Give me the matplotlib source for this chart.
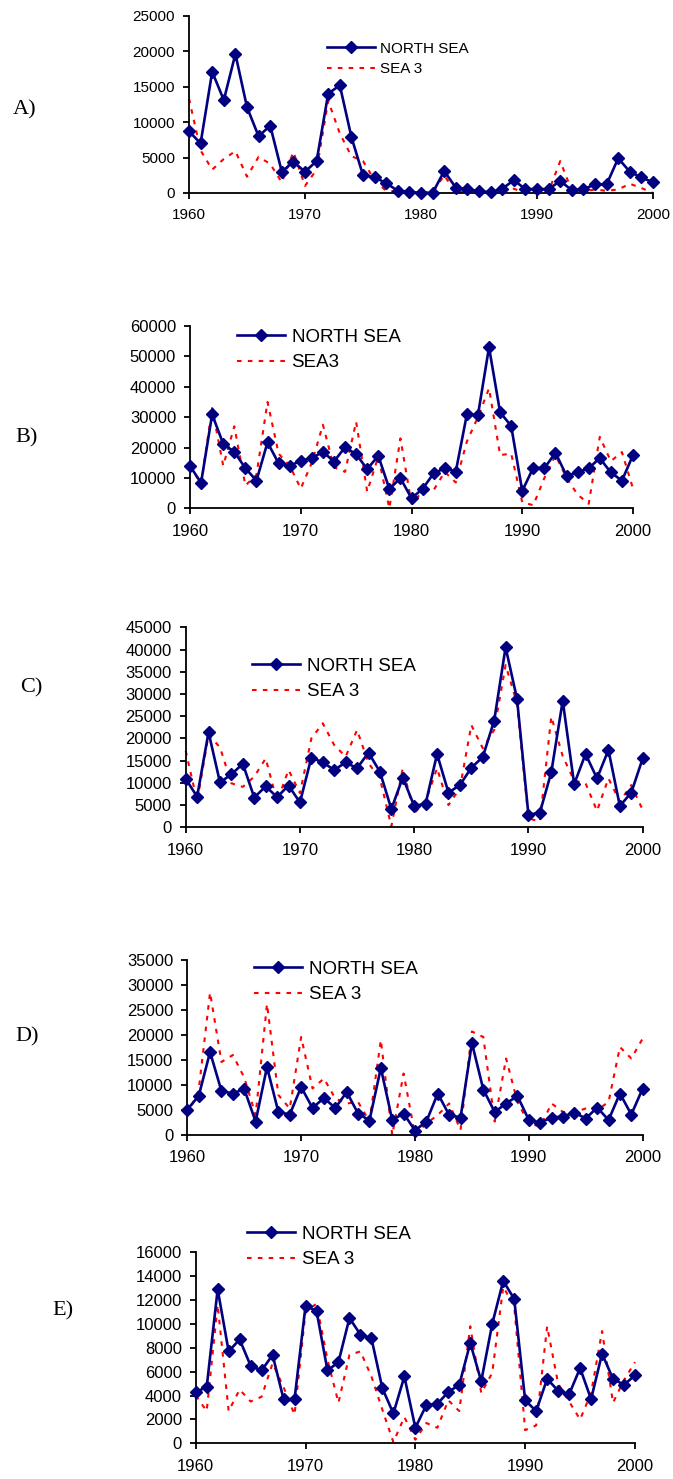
import numpy as np
import matplotlib.pyplot as plt

W, H = 673, 1479
plt.rcParams['font.family'] = ['Liberation Sans', 'DejaVu Sans']

years = np.arange(1960, 2001)

# A)
a_north = [8700, 7000, 17100, 13100, 19600, 12100, 8000, 9500, 3000, 4400,
           3000, 4500, 14000, 15200, 7900, 2500, 2200, 1400, 300, 150,
           0, 0, 3100, 750, 500, 250, 100, 600, 1800, 550,
           550, 550, 1700, 400, 550, 1200, 1200, 4900, 3000, 2200,
           1500]
a_sea3 = [13300, 6000, 3300, 4800, 5900, 2300, 5100, 4100, 1500, 5800,
          1000, 3300, 13000, 8400, 5200, 4500, 1800, 300, 200, 0,
          100, 100, 2500, 0, 300, 200, 100, 300, 600, 0,
          100, 200, 4500, 300, 200, 500, 300, 500, 1300, 700,
          0]

# B)
b_north = [13900, 8400, 30900, 21200, 18600, 13200, 9100, 21700, 14800, 13900,
           15700, 16500, 18600, 15400, 20100, 17800, 12900, 17300, 6400, 9900,
           3300, 6400, 11500, 13200, 12100, 30900, 30700, 53000, 31600, 27100,
           5700, 13400, 13200, 18300, 10700, 11800, 13200, 16500, 11800, 9100,
           17500]
b_sea3 = [14000, 8000, 33000, 14000, 27000, 7500, 11000, 35000, 18000, 14000,
          6500, 15000, 27500, 13500, 12000, 28500, 5500, 17000, 0, 23000,
          1500, 5500, 6000, 12000, 8500, 22000, 30000, 39500, 17500, 18000,
          2000, 1000, 10000, 17500, 10000, 4500, 1500, 23500, 15500, 18500,
          6500]

# C)
c_north = [10900, 6900, 21400, 10100, 11900, 14300, 6700, 9200, 6800, 9400,
           5600, 15700, 14600, 12900, 14600, 13300, 16800, 12500, 4100, 11200,
           4800, 5300, 16500, 7800, 9500, 13400, 15800, 24000, 40500, 28900,
           2800, 3300, 12400, 28500, 9700, 16500, 11000, 17400, 4800, 7800,
           15500]
c_sea3 = [17200, 5800, 20800, 18000, 9900, 9100, 11400, 15500, 5800, 12900,
          7700, 20000, 23400, 18500, 15900, 21900, 14400, 11000, 200, 13300,
          3200, 5800, 13300, 5000, 8800, 23000, 17800, 21900, 36500, 27900,
          2000, 1300, 24900, 16000, 10500, 9900, 3700, 11000, 5800, 9500,
          3900]

# D)
d_north = [5100, 7800, 16600, 8800, 8300, 9200, 2700, 13600, 4600, 4100,
           9600, 5400, 7400, 5400, 8600, 4300, 2900, 13400, 3000, 4300,
           900, 2700, 8300, 4000, 3500, 18400, 9100, 4600, 6300, 7800,
           3000, 2500, 3500, 3700, 4500, 3300, 5500, 3000, 8300, 4100,
           9300]
d_sea3 = [4000, 9000, 28500, 14600, 16000, 11500, 4000, 26200, 8000, 5300,
          19600, 9300, 11300, 7300, 6300, 6600, 2700, 19000, 0, 12300,
          0, 2300, 4000, 6300, 1000, 20700, 19600, 2700, 15300, 6600,
          2300, 1700, 6300, 4600, 4600, 5300, 5000, 6600, 17600, 15300,
          19300]

# E)
e_north = [4300, 4700, 12900, 7700, 8700, 6500, 6100, 7400, 3700, 3700,
           11500, 11100, 6100, 6800, 10500, 9100, 8800, 4600, 2500, 5600,
           1300, 3200, 3300, 4300, 4900, 8400, 5200, 10000, 13600, 12100,
           3600, 2700, 5400, 4400, 4100, 6300, 3700, 7500, 5400, 4900,
           5700]
e_sea3 = [4000, 2700, 11600, 2700, 4500, 3500, 3900, 6700, 4700, 2400,
          11000, 11700, 7000, 3400, 7400, 7700, 5600, 2800, 100, 2200,
          300, 1700, 1300, 3600, 2700, 9800, 4200, 5900, 13100, 11500,
          1100, 1500, 9800, 5000, 3500, 2000, 4200, 9400, 3400, 5300,
          6800]

panels = [
    # label, north, sea3, sea3 label, ymax, ystep, box px (l, r, top, bottom),
    # label xy, legend xy, legend font, tick font
    ("A)", a_north, a_sea3, "SEA 3", 25000, 5000, (189, 653, 15.7, 193),
     (13, 110), (327, 59), 11, 11),
    ("B)", b_north, b_sea3, "SEA3", 60000, 10000, (190, 633, 326, 508.3),
     (15, 438), (237, 350), 13.5, 12),
    ("C)", c_north, c_sea3, "SEA 3", 45000, 5000, (185.7, 642.7, 627.3, 827.3),
     (20, 688), (252, 679), 13.5, 12),
    ("D)", d_north, d_sea3, "SEA 3", 35000, 5000, (187.3, 642.7, 960, 1135),
     (15, 1037), (254, 982), 13.5, 12),
    ("E)", e_north, e_sea3, "SEA 3", 16000, 2000, (195.7, 635, 1252.3, 1443.3),
     (52, 1311), (247, 1247), 13.5, 12),
]

fig = plt.figure(figsize=(W / 100, H / 100), dpi=100)

for lab, north, sea3, sea3_lab, ymax, ystep, box, lxy, gxy, gfs, tfs in panels:
    l, r, t, b = box
    ax = fig.add_axes([l / W, 1 - b / H, (r - l) / W, (b - t) / H])
    ax.plot(years, north, color='#000080', lw=1.9, marker='D', ms=6.5,
            label='NORTH SEA', clip_on=False, zorder=3)
    ax.plot(years, sea3, color='#ff0000', lw=1.5, ls=(0, (2.2, 3)),
            label=sea3_lab, clip_on=False, zorder=2)
    ax.set_xlim(1960, 2000)
    ax.set_ylim(0, ymax)
    ax.set_xticks(np.arange(1960, 2001, 10))
    ax.set_yticks(np.arange(0, ymax + 1, ystep))
    for s in ['top', 'right']:
        ax.spines[s].set_visible(False)
    for s in ['left', 'bottom']:
        ax.spines[s].set_linewidth(1.3)
    ax.tick_params(direction='out', length=4, width=1.3, labelsize=tfs)
    ax.tick_params(axis='x', pad=7)
    ax.tick_params(axis='y', pad=6)
    hl = 48 / (gfs * 100 / 72)
    ax.legend(loc='center left', bbox_to_anchor=(gxy[0] / W, 1 - gxy[1] / H),
              bbox_transform=fig.transFigure, frameon=False, borderpad=0,
              borderaxespad=0, handlelength=hl, handletextpad=0.35,
              labelspacing=0.45, prop={'size': gfs})
    fig.text(lxy[0] / W, 1 - lxy[1] / H, lab, family='Liberation Serif',
             fontsize=16, va='center', ha='left')

fig.savefig('out.png', dpi=100)
